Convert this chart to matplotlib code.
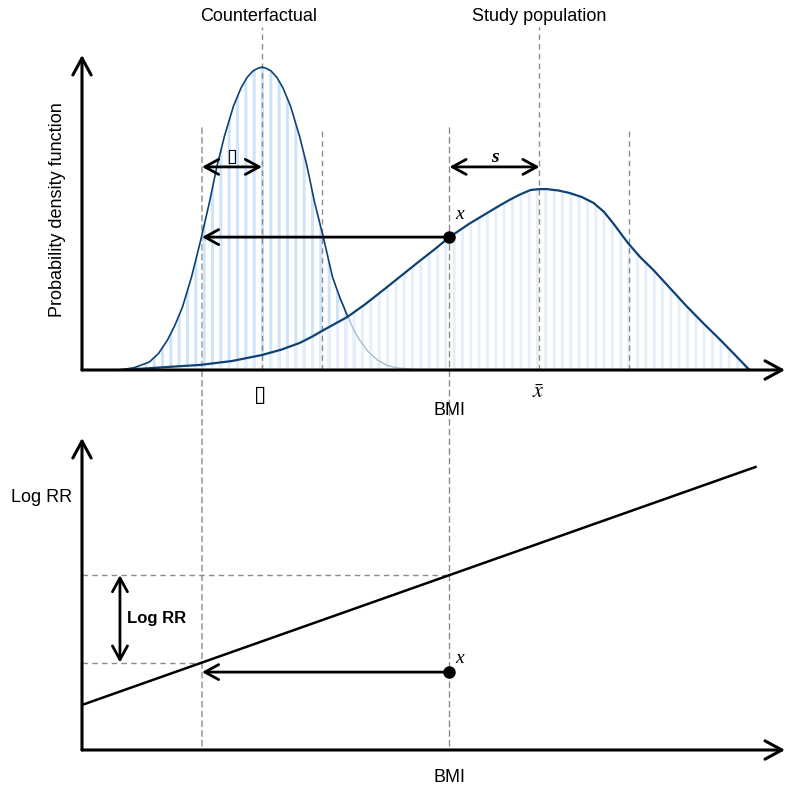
import matplotlib
matplotlib.use("Agg")
import matplotlib.pyplot as plt
from matplotlib.patches import ConnectionPatch
import numpy as np

plt.rcParams['font.family'] = ['Liberation Sans Narrow', 'Liberation Sans', 'DejaVu Sans']
plt.rcParams['mathtext.fontset'] = 'stix'
plt.rcParams['hatch.linewidth'] = 2.2

# ---- values ----
# counterfactual distribution (BMI, density)
cf_bmi = [12.5, 13.5, 14.5, 15.1, 15.7, 16.2, 16.7, 17.3, 17.9, 18.5, 19.0, 19.5,
          20.1, 20.6, 21.0, 21.4, 21.7, 22.0, 22.3, 22.6, 23.0, 23.4, 23.9, 24.5,
          25.0, 25.5, 26.1, 26.7, 27.2, 27.7, 28.1, 28.5, 29.1, 29.7, 30.3, 31.0, 32.5]
cf_dens = [0.000, 0.0008, 0.0027, 0.0055, 0.010, 0.015, 0.021, 0.031, 0.043, 0.056, 0.068, 0.078,
           0.088, 0.094, 0.0975, 0.0997, 0.1005, 0.101, 0.1005, 0.0997, 0.0975, 0.094, 0.088, 0.078,
           0.068, 0.056, 0.044, 0.031, 0.024, 0.018, 0.0135, 0.010, 0.006, 0.0033, 0.0016, 0.0007, 0.000]

# study population distribution
st_bmi = [12.5, 14.5, 16.0, 17.9, 20.0, 22.0, 23.3, 24.5, 25.3, 26.1, 26.9, 27.7,
          28.9, 30.1, 31.3, 32.5, 33.5, 34.5, 35.8, 37.0, 37.8, 38.5, 39.2, 39.9,
          40.5, 41.0, 41.8, 42.5, 43.3, 44.1, 44.8, 45.4, 46.4, 47.2, 48.1, 49.2,
          50.3, 51.4, 52.5, 53.5, 54.5]
st_dens = [0.000, 0.0006, 0.0011, 0.0017, 0.003, 0.005, 0.0068, 0.009, 0.011, 0.0133, 0.0155, 0.0177,
           0.022, 0.0267, 0.0315, 0.0363, 0.0402, 0.0443, 0.0487, 0.0523, 0.0547, 0.0567, 0.0585, 0.060,
           0.0603, 0.0603, 0.0598, 0.059, 0.0577, 0.0557, 0.0527, 0.049, 0.0423, 0.0377, 0.0333, 0.0273,
           0.0213, 0.0157, 0.0103, 0.0052, 0.000]

mu, sd = 22.0, 4.0          # counterfactual mean / sd
xbar, s = 40.5, 6.0         # study mean / sd
x_obs = 34.5                # exposure x
x_cf = 18.0                 # matched counterfactual value
cross_bmi = 27.7            # where the two curves cross

# log RR line
line_bmi = [10.0, 54.9]
line_logrr = [0.085, 0.534]
x_arrow_logrr = 0.147

dark = '#0f4274'
grey = '#8c8c8c'
dash = (0, (4, 3))

fig = plt.figure(figsize=(7.88, 7.86), dpi=100)
ax1 = fig.add_axes([82 / 788, 416 / 786, 706 / 788, 350 / 786])
ax2 = fig.add_axes([82 / 788, 36 / 786, 706 / 788, 320 / 786])
ax1.set_xlim(10, 10 + 706 / 15)
ax1.set_ylim(0, 350 / 3000)
ax2.set_xlim(10, 10 + 706 / 15)
ax2.set_ylim(0, 320 / 530)
for a in (ax1, ax2):
    a.set_axis_off()


def arrow(ax, head, tail, lw=2.0, both=False, scale=18):
    style = '<->' if both else '->'
    ax.annotate('', xy=head, xytext=tail,
                arrowprops=dict(arrowstyle=style + ',head_length=0.55,head_width=0.3',
                                lw=lw, color='black', shrinkA=0, shrinkB=0,
                                mutation_scale=scale),
                annotation_clip=False)


# ---- top panel ----
cf_bmi = np.array(cf_bmi)
cf_dens = np.array(cf_dens)
ax1.fill_between(cf_bmi, 0, cf_dens, facecolor='none', edgecolor='#cde4fa',
                 hatch='||', linewidth=0, zorder=1)
ax1.fill_between(st_bmi, 0, st_dens, facecolor='none', edgecolor='#e5f0fc',
                 hatch='||', linewidth=0, zorder=1)

solid = cf_bmi <= cross_bmi
ax1.plot(cf_bmi[solid], cf_dens[solid], color=dark, lw=1.2, zorder=3)
ax1.plot(cf_bmi[cf_bmi >= 27.2], cf_dens[cf_bmi >= 27.2], color='#a7bdd4', lw=1.0, zorder=2)
ax1.plot(st_bmi, st_dens, color=dark, lw=1.6, zorder=3)

# vertical reference lines
for xv in (mu, xbar):
    ax1.plot([xv, xv], [0, 0.1143], color=grey, lw=1, linestyle=dash, clip_on=False, zorder=2)
for xv in (mu + sd, xbar + s):
    ax1.plot([xv, xv], [0, 0.0807], color=grey, lw=1, linestyle=dash, zorder=2)
for xv in (x_cf, x_obs):
    con = ConnectionPatch(xyA=(xv, 0.0807), coordsA=ax1.transData,
                          xyB=(xv, 0), coordsB=ax2.transData,
                          color=grey, lw=1, linestyle=dash, zorder=-1)
    fig.add_artist(con)

# axes
arrow(ax1, (10 + 703 / 15, 0), (10, 0), lw=2.2, scale=22)
arrow(ax1, (10, 315 / 3000), (10, 0), lw=2.2, scale=22)

# annotations
d_obs = np.interp(x_obs, st_bmi, st_dens)
arrow(ax1, (x_cf, d_obs), (x_obs, d_obs))
ax1.plot([x_obs], [d_obs], 'o', color='black', ms=8, zorder=5)
ax1.text(x_obs + 0.4, d_obs + 0.0075, 'x', family='Liberation Serif', style='italic',
         fontsize=14, ha='left', va='center')

arrow(ax1, (mu, 0.0677), (x_cf, 0.0677), both=True)
ax1.text((x_cf + mu) / 2, 0.0713, '\u25AF', family='DejaVu Sans', style='italic',
         fontsize=14, ha='center', va='center')
arrow(ax1, (xbar, 0.0677), (x_obs, 0.0677), both=True)
ax1.text((x_obs + xbar) / 2, 0.0707, 's', family='Liberation Serif', style='italic',
         weight='bold', fontsize=14, ha='center', va='center')

ax1.text(mu - 0.1, -0.0083, '\u25AF', family='DejaVu Sans', style='italic',
         fontsize=16, ha='center', va='center')
ax1.text(xbar - 0.1, -0.0075, r'$\bar{x}$', fontsize=16, ha='center', va='center')
ax1.text(x_obs, -0.0135, 'BMI', fontsize=13, ha='center', va='center')
ax1.text(mu - 0.25, 0.1180, 'Counterfactual', fontsize=13, ha='center', va='center')
ax1.text(xbar, 0.1180, 'Study population', fontsize=13, ha='center', va='center')
ax1.text(8.4, 0.0533, 'Probability density function', fontsize=13, rotation=90,
         ha='center', va='center')

# ---- bottom panel ----
ax2.plot(line_bmi, line_logrr, color='black', lw=1.8, zorder=3)
rr_obs = np.interp(x_obs, line_bmi, line_logrr)
rr_cf = np.interp(x_cf, line_bmi, line_logrr)
ax2.plot([10, x_obs], [rr_obs, rr_obs], color=grey, lw=1, linestyle=dash)
ax2.plot([10, x_cf], [rr_cf, rr_cf], color=grey, lw=1, linestyle=dash)

arrow(ax2, (10 + 703 / 15, 0), (10, 0), lw=2.2, scale=22)
arrow(ax2, (10, 312 / 530), (10, 0), lw=2.2, scale=22)

arrow(ax2, (12.53, rr_obs), (12.53, rr_cf), both=True)
ax2.text(13.0, (rr_obs + rr_cf) / 2, 'Log RR', fontsize=12, weight='bold',
         ha='left', va='center')

arrow(ax2, (x_cf, x_arrow_logrr), (x_obs, x_arrow_logrr))
ax2.plot([x_obs], [x_arrow_logrr], 'o', color='black', ms=8, zorder=5)
ax2.text(x_obs + 0.4, x_arrow_logrr + 0.025, 'x', family='Liberation Serif', style='italic',
         fontsize=14, ha='left', va='center')

ax2.text(7.33, 0.477, 'Log RR', fontsize=13, ha='center', va='center')
ax2.text(x_obs, -0.051, 'BMI', fontsize=13, ha='center', va='center')

fig.savefig('out.png', dpi=100)
